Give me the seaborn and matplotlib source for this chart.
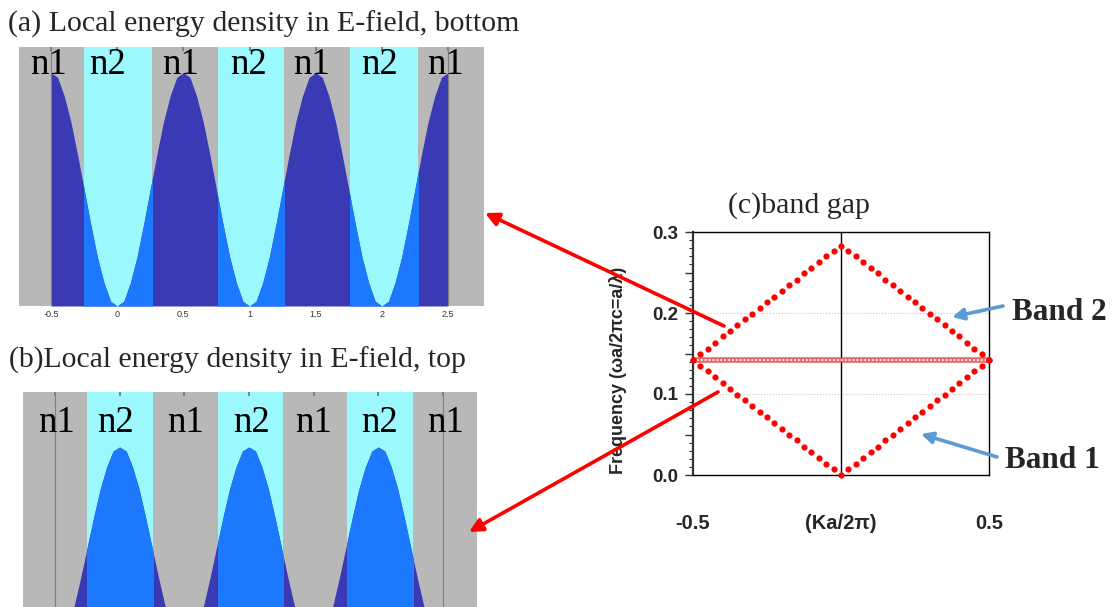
import numpy as np
import pandas as pd
import matplotlib.pyplot as plt
from matplotlib.patches import Rectangle, FancyArrowPatch
from matplotlib.ticker import MultipleLocator
import matplotlib.transforms as mtransforms
import seaborn as sns

sns.set_theme(style="white")
plt.rcParams['font.family'] = ['Liberation Sans', 'DejaVu Sans']

W, H = 1120, 607

# ---- (a)/(b) local energy density along the stack ----
pos = np.linspace(-0.5, 2.5, 61)  # sample positions, step 0.05
energy_bottom = [
    1.00, 0.98, 0.90, 0.79, 0.65, 0.50, 0.35, 0.21, 0.10, 0.02,
    0.00, 0.02, 0.10, 0.21, 0.35, 0.50, 0.65, 0.79, 0.90, 0.98,
    1.00, 0.98, 0.90, 0.79, 0.65, 0.50, 0.35, 0.21, 0.10, 0.02,
    0.00, 0.02, 0.10, 0.21, 0.35, 0.50, 0.65, 0.79, 0.90, 0.98,
    1.00, 0.98, 0.90, 0.79, 0.65, 0.50, 0.35, 0.21, 0.10, 0.02,
    0.00, 0.02, 0.10, 0.21, 0.35, 0.50, 0.65, 0.79, 0.90, 0.98,
    1.00]
energy_top = [
    0.00, 0.02, 0.10, 0.21, 0.35, 0.50, 0.65, 0.79, 0.90, 0.98,
    1.00, 0.98, 0.90, 0.79, 0.65, 0.50, 0.35, 0.21, 0.10, 0.02,
    0.00, 0.02, 0.10, 0.21, 0.35, 0.50, 0.65, 0.79, 0.90, 0.98,
    1.00, 0.98, 0.90, 0.79, 0.65, 0.50, 0.35, 0.21, 0.10, 0.02,
    0.00, 0.02, 0.10, 0.21, 0.35, 0.50, 0.65, 0.79, 0.90, 0.98,
    1.00, 0.98, 0.90, 0.79, 0.65, 0.50, 0.35, 0.21, 0.10, 0.02,
    0.00]
n2_start = [-0.25, 0.76, 1.76]
n2_end = [0.26, 1.26, 2.27]
tick_pos = [-0.5, 0, 0.5, 1, 1.5, 2, 2.5]
tick_text = ['-0.5', '0', '0.5', '1', '1.5', '2', '2.5']
a_n1_x = [-0.52, 0.48, 1.47, 2.48]
a_n2_x = [-0.07, 0.99, 1.98]
b_n1_x = [-0.49, 0.51, 1.50, 2.52]
b_n2_x = [-0.03, 1.02, 2.01]

# ---- (c) band diagram ----
k = np.linspace(-0.5, 0.5, 41)
band1 = [0.142, 0.135, 0.128, 0.121, 0.113, 0.106, 0.099, 0.092, 0.085, 0.078,
         0.071, 0.064, 0.057, 0.050, 0.043, 0.035, 0.028, 0.021, 0.014, 0.007,
         0.000,
         0.007, 0.014, 0.021, 0.028, 0.035, 0.043, 0.050, 0.057, 0.064, 0.071,
         0.078, 0.085, 0.092, 0.099, 0.106, 0.113, 0.121, 0.128, 0.135, 0.142]
band2 = [0.142, 0.149, 0.156, 0.163, 0.171, 0.178, 0.185, 0.192, 0.199, 0.206,
         0.213, 0.220, 0.227, 0.234, 0.241, 0.249, 0.256, 0.263, 0.270, 0.277,
         0.283,
         0.277, 0.270, 0.263, 0.256, 0.249, 0.241, 0.234, 0.227, 0.220, 0.213,
         0.206, 0.199, 0.192, 0.185, 0.178, 0.171, 0.163, 0.156, 0.149, 0.142]
gap_freq = 0.142

GRAY = '#b9b8b9'
CYAN = '#9bf8fc'
DARK = '#3a3ab4'
BLUE = '#1c78fd'
SERIF = 'Liberation Serif'


def fx(x):
    return x / W


def fy(y):
    return 1 - y / H


def draw_profile(ax, values, xlim, ylim, n1_x, n2_x, label_y, show_labels):
    ax.set_xlim(*xlim)
    ax.set_ylim(*ylim)
    ax.set_facecolor(GRAY)
    for s in ax.spines.values():
        s.set_visible(False)
    for s, e in zip(n2_start, n2_end):
        ax.axvspan(s, e, color=CYAN, lw=0, zorder=0.5)
    df = pd.DataFrame({'x': pos, 'e': values})
    ax.fill_between(df['x'], 0, df['e'], color=DARK, lw=0, zorder=1)
    for s, e in zip(n2_start, n2_end):
        poly = ax.fill_between(df['x'], 0, df['e'], color=BLUE, lw=0, zorder=1.5)
        clip = Rectangle((s, -1), e - s, 3, transform=ax.transData)
        poly.set_clip_path(clip)
    for xv in (tick_pos[0], tick_pos[-1]):
        ax.axvline(xv, color='#808080', lw=0.8, zorder=2)
    ax.set_yticks([])
    ax.set_xticks(tick_pos, tick_text if show_labels else [''] * len(tick_pos))
    ax.tick_params(axis='x', bottom=False, top=True, direction='in', length=3,
                   color='#777777', labelsize=6.5, labelcolor='#333333', pad=3)
    trans = mtransforms.blended_transform_factory(ax.transData, ax.transAxes)
    for xv in n1_x:
        ax.text(xv, label_y, 'n1', transform=trans, ha='center', va='baseline',
                fontsize=26.5, family=SERIF, color='#000000', zorder=3)
    for xv in n2_x:
        ax.text(xv, label_y, 'n2', transform=trans, ha='center', va='baseline',
                fontsize=26.5, family=SERIF, color='#000000', zorder=3)


fig = plt.figure(figsize=(W / 100, H / 100), dpi=100)
fig.patch.set_facecolor('white')

ax_a = fig.add_axes([fx(19), fy(306), 465 / W, 259 / H])
draw_profile(ax_a, energy_bottom, (-0.742, 2.772), (0, 1.11),
             a_n1_x, a_n2_x, 0.896, True)

ax_b = fig.add_axes([fx(23), 0, 454 / W, 215 / H])
draw_profile(ax_b, energy_top, (-0.747, 2.763), (0.2, 1.275),
             b_n1_x, b_n2_x, 0.814, False)

# ---- band gap panel ----
ax_c = fig.add_axes([fx(693), fy(475), 296 / W, 243 / H])
ax_c.set_facecolor('white')
ax_c.set_xlim(-0.5, 0.5)
ax_c.set_ylim(0, 0.3)
ax_c.hlines([0.1, 0.2], -0.5, 0.5, colors='#c8c8c8', lw=0.8, linestyles=':', zorder=1)
ax_c.axvline(0, color='black', lw=1, zorder=2)
ax_c.axhline(gap_freq, color='#e84a4a', lw=4.0, alpha=0.85, zorder=2)
ax_c.axhline(gap_freq, color='#fff0f0', lw=1.4, ls=(0, (1, 1)), zorder=2.1)

bands = pd.DataFrame({'k': np.concatenate([k, k]),
                      'freq': band1 + band2,
                      'band': ['Band 1'] * len(k) + ['Band 2'] * len(k)})
sns.scatterplot(data=bands, x='k', y='freq', color='#ff0000', s=20,
                linewidth=0, legend=False, ax=ax_c, zorder=3, clip_on=False)
ax_c.set_xlabel('')
ax_c.set_ylabel('')

for s in ax_c.spines.values():
    s.set_visible(True)
    s.set_color('black')
    s.set_linewidth(1)
ax_c.spines['left'].set_linewidth(1.6)
ax_c.spines['left'].set_color('#333333')

ax_c.set_yticks([0, 0.05, 0.1, 0.15, 0.2, 0.25, 0.3],
                ['0.0', '', '0.1', '', '0.2', '', '0.3'],
                fontweight='bold', fontsize=13.5)
ax_c.yaxis.set_minor_locator(MultipleLocator(0.01))
ax_c.tick_params(axis='y', which='major', left=True, direction='out',
                 length=5.5, width=1, pad=5, color='#333333')
ax_c.tick_params(axis='y', which='minor', left=True, direction='out',
                 length=3.2, width=0.8, color='#333333')
ax_c.set_xticks([-0.5, 0, 0.5], ['-0.5', '(Ka/2π)', '0.5'],
                fontweight='bold', fontsize=14.5)
ax_c.tick_params(axis='x', bottom=False, length=0, pad=28)

fig.text(fx(618), fy(370), 'Frequency (ωa/2πc=a/λ)', rotation=90,
         ha='center', va='center', fontsize=13, fontweight='bold', zorder=3)

# titles
fig.text(fx(8), fy(32), '(a) Local energy density in E-field, bottom',
         family=SERIF, fontsize=21.5, va='baseline', ha='left')
fig.text(fx(9), fy(368), '(b)Local energy density in E-field, top',
         family=SERIF, fontsize=21.4, va='baseline', ha='left')
fig.text(fx(799), fy(213), '(c)band gap', family=SERIF, fontsize=21.5,
         va='baseline', ha='center')
fig.text(fx(1012), fy(320), 'Band 2', family=SERIF, fontsize=22.5,
         fontweight='bold', va='baseline', ha='left')
fig.text(fx(1005), fy(468), 'Band 1', family=SERIF, fontsize=22.5,
         fontweight='bold', va='baseline', ha='left')

# arrows (figure pixel positions)
arrows = [((724, 326), (485, 213), 'red', 2.6, 20),
          ((718, 392), (469, 532), 'red', 2.6, 20),
          ((1003, 306), (952, 317), '#5b9bd5', 2.6, 17),
          ((997, 457), (921, 434), '#5b9bd5', 2.6, 17)]
for (x0, y0), (x1, y1), col, lw, ms in arrows:
    fig.add_artist(FancyArrowPatch((fx(x0), fy(y0)), (fx(x1), fy(y1)),
                                   transform=fig.transFigure,
                                   arrowstyle='-|>', mutation_scale=ms,
                                   color=col, lw=lw, shrinkA=0, shrinkB=0,
                                   zorder=5))

fig.savefig('out.png', dpi=100, facecolor='white')
